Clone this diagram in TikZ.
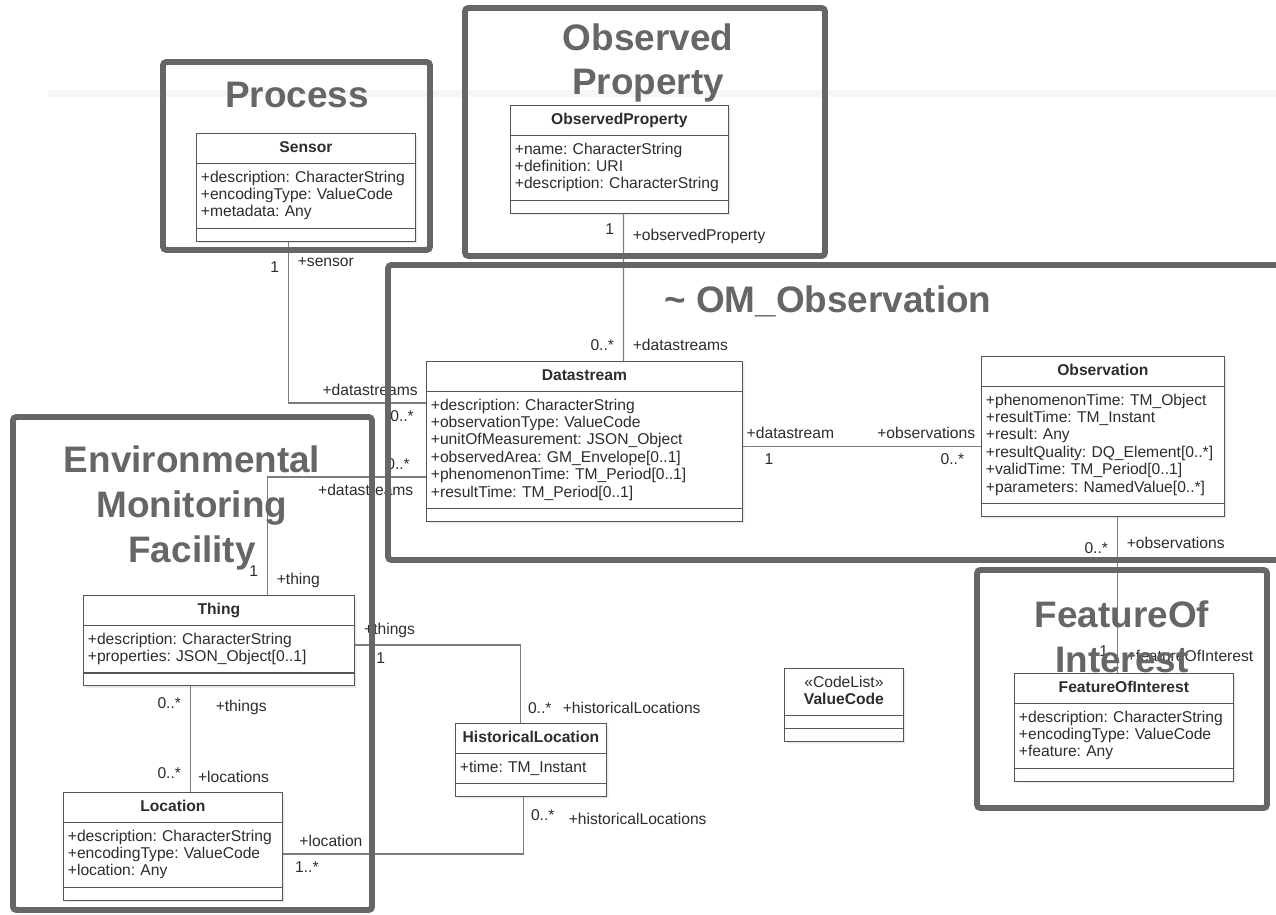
\documentclass[tikz,border=0pt]{standalone}
\usepackage{fontspec}
\setmainfont{Liberation Sans}
\usepackage{tikz}
\usetikzlibrary{shapes.multipart, shadows, calc}
\definecolor{areagray}{RGB}{102,102,102}
\definecolor{classline}{RGB}{85,85,85}
\definecolor{assocgray}{RGB}{125,125,125}
\definecolor{textdark}{RGB}{45,45,45}
\definecolor{bandgray}{RGB}{246,246,246}
\newcommand{\classfont}{\fontsize{8.9}{9.9}\selectfont\frenchspacing}
\newcommand{\areafont}{\fontsize{21}{25.5}\selectfont\bfseries}
\newcommand{\umlname}[1]{\makebox[\hsize]{\strut#1}}
\tikzset{
  umlclass/.style={rectangle split, rectangle split parts=3,
    rectangle split empty part height=0pt,
    draw=classline, fill=white, anchor=north west,
    font=\classfont, text=textdark, align=left,
    inner xsep=2.5pt, inner ysep=3.3pt, line width=0.6pt,
    drop shadow={opacity=0.18, shadow xshift=1.2pt, shadow yshift=-1.2pt}},
  assoc/.style={line width=0.7pt, color=assocgray},
  mult/.style={font=\classfont, text=textdark, inner sep=1pt},
  area/.style={line width=3.4pt, draw=areagray, rounded corners=2pt},
  areatitle/.style={font=\areafont, text=areagray, align=center, inner sep=0pt}
}

\begin{document}
\begin{tikzpicture}[x=0.02cm, y=-0.02cm]
  \clip (0,0) rectangle (1276,915);
  \fill[white] (0,0) rectangle (1276,915);

  % slide band
  \draw[bandgray, line width=0.14cm] (48,94) -- (1276,94);

  % Classes
  \node[umlclass, text width=4.2cm] (sensor) at (196,133)
    {\umlname{\textbf{Sensor}}\nodepart{second}\strut+description: CharacterString\\+encodingType: ValueCode\\+metadata: Any\strut\nodepart{third}};
  \node[umlclass, text width=4.18cm] (obsprop) at (510,105)
    {\umlname{\textbf{ObservedProperty}}\nodepart{second}\strut+name: CharacterString\\+definition: URI\\+description: CharacterString\strut\nodepart{third}};
  \node[umlclass, text width=6.14cm] (datastream) at (426,361)
    {\umlname{\textbf{Datastream}}\nodepart{second}\strut+description: CharacterString\\+observationType: ValueCode\\+unitOfMeasurement: JSON\_Object\\+observedArea: GM\_Envelope[0..1]\\+phenomenonTime: TM\_Period[0..1]\\+resultTime: TM\_Period[0..1]\strut\nodepart{third}};
  \node[umlclass, text width=4.68cm] (observation) at (981,356)
    {\umlname{\textbf{Observation}}\nodepart{second}\strut+phenomenonTime: TM\_Object\\+resultTime: TM\_Instant\\+result: Any\\+resultQuality: DQ\_Element[0..*]\\+validTime: TM\_Period[0..1]\\+parameters: NamedValue[0..*]\strut\nodepart{third}};
  \node[umlclass, text width=5.24cm] (thing) at (83,595)
    {\umlname{\textbf{Thing}}\nodepart{second}\strut+description: CharacterString\\+properties: JSON\_Object[0..1]\strut\nodepart{third}};
  \node[umlclass, text width=4.2cm] (location) at (63,792)
    {\umlname{\textbf{Location}}\nodepart{second}\strut+description: CharacterString\\+encodingType: ValueCode\\+location: Any\strut\nodepart{third}};
  \node[umlclass, text width=2.84cm] (histloc) at (455,723)
    {\umlname{\textbf{HistoricalLocation}}\nodepart{second}\strut+time: TM\_Instant\strut\nodepart{third}};
  \node[umlclass, text width=4.2cm] (foi) at (1014,673)
    {\umlname{\textbf{FeatureOfInterest}}\nodepart{second}\strut+description: CharacterString\\+encodingType: ValueCode\\+feature: Any\strut\nodepart{third}};
  \node[umlclass, text width=2.2cm] (valuecode) at (784,668)
    {\umlname{«CodeList»}\\\umlname{\textbf{ValueCode}}\nodepart{second}\nodepart{third}};

  % Associations
  \draw[assoc] ([xshift=-0.35cm]sensor.south) |- ([yshift=-0.84cm]datastream.north west)
    node[mult, pos=0.08, left=4pt] {1}
    node[mult, pos=0.062, right=4pt] {+sensor}
    node[mult, pos=0.797, above=3pt] {+datastreams}
    node[mult, pos=0.913, below=3pt] {0..*};
  \draw[assoc] ([xshift=0.08cm]obsprop.south) -- ([xshift=0.78cm]datastream.north)
    node[mult, pos=0.107, left=4pt] {1}
    node[mult, pos=0.154, right=4pt] {+observedProperty}
    node[mult, pos=0.89, left=4pt] {0..*}
    node[mult, pos=0.89, right=4pt] {+datastreams};
  \draw[assoc] ([yshift=-2.32cm]datastream.north west) -| ([xshift=0.97cm]thing.north)
    node[mult, pos=0.088, above=3pt] {0..*}
    node[mult, pos=0.19, below=3pt] {+datastreams}
    node[mult, pos=0.90, left=4pt] {1}
    node[mult, pos=0.94, right=4pt] {+thing};
  \coordinate (dsout) at ([yshift=-0.1cm]datastream.east);
  \draw[assoc] (dsout) -- (dsout -| observation.west)
    node[mult, pos=0.2, above=3pt] {+datastream}
    node[mult, pos=0.11, below=3pt] {1}
    node[mult, pos=0.77, above=3pt] {+observations}
    node[mult, pos=0.88, below=3pt] {0..*};
  \coordinate (obsout) at ([xshift=0.29cm]observation.south);
  \draw[assoc] (obsout) -- (obsout |- foi.north)
    node[mult, pos=0.2, left=4pt] {0..*}
    node[mult, pos=0.17, right=4pt] {+observations}
    node[mult, pos=0.86, left=4pt] {1}
    node[mult, pos=0.89, right=4pt] {+featureOfInterest};
  \draw[assoc] ([yshift=-1cm]thing.north east) -| ([xshift=-0.21cm]histloc.north)
    node[mult, pos=0.105, above=3pt] {+things}
    node[mult, pos=0.078, below=3pt] {1}
    node[mult, pos=0.905, right=3pt] {0..*}
    node[mult, pos=0.905, anchor=west, xshift=0.8cm] {+historicalLocations};
  \draw[assoc] ([xshift=-0.15cm]histloc.south) |- ([yshift=-1.24cm]location.north east)
    node[mult, pos=0.156, right=3pt] {0..*}
    node[mult, pos=0.19, anchor=west, xshift=0.86cm] {+historicalLocations}
    node[mult, pos=0.9, above=3pt] {+location}
    node[mult, pos=0.95, below=3pt] {1..*};
  \coordinate (thingout) at ([xshift=-0.57cm]thing.south);
  \draw[assoc] (thingout) -- (thingout |- location.north)
    node[mult, pos=0.16, left=4pt] {0..*}
    node[mult, pos=0.2, anchor=west, xshift=0.46cm] {+things}
    node[mult, pos=0.82, left=4pt] {0..*}
    node[mult, pos=0.86, right=3pt] {+locations};

  % Areas
  \draw[area] (163,62) rectangle (430,250);
  \node[areatitle, anchor=base] (processtitle) at (297,108) {Process};
  \draw[area] (465,8) rectangle (825,256);
  \node[areatitle] (obsproptitle) at (648,63) {Observed\\Property};
  \draw[area] (388,265) rectangle (1300,560);
  \node[areatitle, anchor=base] (omtitle) at (828,313) {\textasciitilde\ OM\_Observation};
  \draw[area] (13,417) rectangle (372,910);
  \node[areatitle] (emftitle) at (192,508) {Environmental\\Monitoring\\Facility};
  \draw[area] (977,570) rectangle (1267,808);
  \node[areatitle] (foititle) at (1122,637) {FeatureOf\\Interest};
\end{tikzpicture}
\end{document}
